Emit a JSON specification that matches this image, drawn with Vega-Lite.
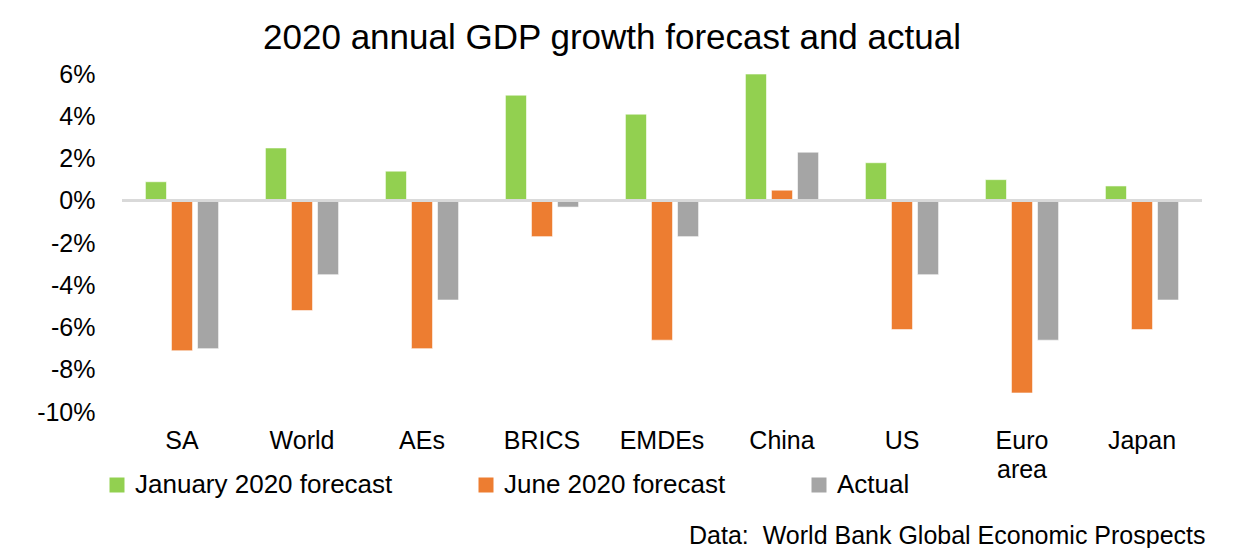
{
  "$schema": "https://vega.github.io/schema/vega-lite/v6.json",
  "width": 1080,
  "height": 338,
  "autosize": "none",
  "padding": {"left": 122, "top": 74, "right": 38, "bottom": 136},
  "background": "white",
  "title": {
    "text": "2020 annual GDP growth forecast and actual",
    "font": "Liberation Sans",
    "fontSize": 35,
    "fontWeight": "normal",
    "color": "black",
    "anchor": "middle",
    "frame": "group",
    "dx": -50,
    "offset": 6
  },
  "config": {
    "view": {"stroke": null},
    "font": "Liberation Sans"
  },
  "data": {
    "values": [
      {"country": "SA", "series": "January 2020 forecast", "value": 0.9},
      {"country": "SA", "series": "June 2020 forecast", "value": -7.1},
      {"country": "SA", "series": "Actual", "value": -7.0},
      {"country": "World", "series": "January 2020 forecast", "value": 2.5},
      {"country": "World", "series": "June 2020 forecast", "value": -5.2},
      {"country": "World", "series": "Actual", "value": -3.5},
      {"country": "AEs", "series": "January 2020 forecast", "value": 1.4},
      {"country": "AEs", "series": "June 2020 forecast", "value": -7.0},
      {"country": "AEs", "series": "Actual", "value": -4.7},
      {"country": "BRICS", "series": "January 2020 forecast", "value": 5.0},
      {"country": "BRICS", "series": "June 2020 forecast", "value": -1.7},
      {"country": "BRICS", "series": "Actual", "value": -0.3},
      {"country": "EMDEs", "series": "January 2020 forecast", "value": 4.1},
      {"country": "EMDEs", "series": "June 2020 forecast", "value": -6.6},
      {"country": "EMDEs", "series": "Actual", "value": -1.7},
      {"country": "China", "series": "January 2020 forecast", "value": 6.0},
      {"country": "China", "series": "June 2020 forecast", "value": 0.5},
      {"country": "China", "series": "Actual", "value": 2.3},
      {"country": "US", "series": "January 2020 forecast", "value": 1.8},
      {"country": "US", "series": "June 2020 forecast", "value": -6.1},
      {"country": "US", "series": "Actual", "value": -3.5},
      {"country": "Euro area", "series": "January 2020 forecast", "value": 1.0},
      {"country": "Euro area", "series": "June 2020 forecast", "value": -9.1},
      {"country": "Euro area", "series": "Actual", "value": -6.6},
      {"country": "Japan", "series": "January 2020 forecast", "value": 0.7},
      {"country": "Japan", "series": "June 2020 forecast", "value": -6.1},
      {"country": "Japan", "series": "Actual", "value": -4.7}
    ]
  },
  "layer": [
    {
      "mark": {"type": "bar", "stroke": "white", "strokeWidth": 0.6},
      "encoding": {
        "x": {
          "field": "country",
          "type": "nominal",
          "sort": ["SA", "World", "AEs", "BRICS", "EMDEs", "China", "US", "Euro area", "Japan"],
          "scale": {"paddingInner": 0.39, "paddingOuter": 0.195},
          "axis": {
            "domain": false,
            "ticks": false,
            "tickSize": 0,
            "grid": false,
            "labelAngle": 0,
            "labelFont": "Liberation Sans",
            "labelFontSize": 25,
            "labelColor": "black",
            "labelPadding": 16,
            "labelLineHeight": 29,
            "labelExpr": "datum.label == 'Euro area' ? ['Euro', 'area'] : datum.label",
            "title": "Data:\u00a0 World Bank Global Economic Prospects",
            "titleFont": "Liberation Sans",
            "titleFontSize": 25,
            "titleFontWeight": "normal",
            "titleColor": "black",
            "titleAnchor": "end",
            "titleAlign": "right",
            "titleBaseline": "middle",
            "titleX": 1083,
            "titleY": 123
          }
        },
        "xOffset": {
          "field": "series",
          "type": "nominal",
          "sort": ["January 2020 forecast", "June 2020 forecast", "Actual"],
          "scale": {"paddingInner": 0.19, "paddingOuter": 0}
        },
        "y": {
          "field": "value",
          "type": "quantitative",
          "scale": {"domain": [-10, 6], "nice": false},
          "axis": {
            "values": [-10, -8, -6, -4, -2, 0, 2, 4, 6],
            "domain": false,
            "ticks": false,
            "tickSize": 0,
            "grid": false,
            "labelFont": "Liberation Sans",
            "labelFontSize": 25,
            "labelColor": "black",
            "labelPadding": 27,
            "labelExpr": "datum.value + '%'",
            "title": null
          }
        },
        "color": {
          "field": "series",
          "type": "nominal",
          "scale": {
            "domain": ["January 2020 forecast", "June 2020 forecast", "Actual"],
            "range": ["#92D050", "#ED7D31", "#A5A5A5"]
          },
          "legend": {
            "orient": "none",
            "legendX": -18,
            "legendY": 398,
            "direction": "horizontal",
            "title": null,
            "symbolType": "square",
            "symbolSize": 225,
            "symbolStrokeWidth": 0,
            "labelFont": "Liberation Sans",
            "labelFontSize": 26,
            "labelColor": "black",
            "labelOffset": 5,
            "columnPadding": 80,
            "labelLimit": 400
          }
        }
      }
    },
    {
      "mark": {"type": "rule", "color": "#D9D9D9", "strokeWidth": 2.5},
      "encoding": {"y": {"datum": 0}}
    }
  ]
}
